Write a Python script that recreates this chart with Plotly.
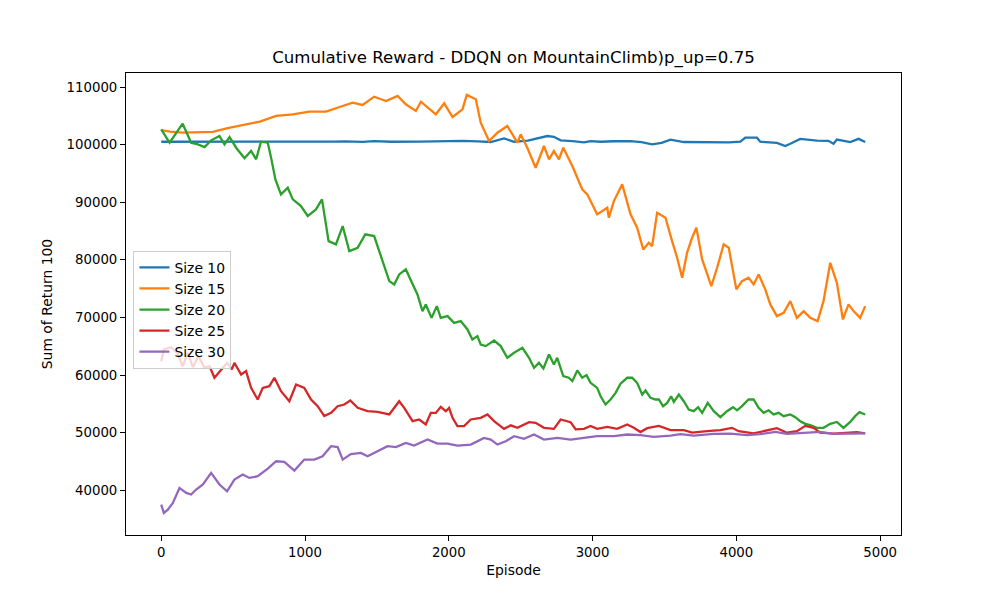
import plotly.graph_objects as go

# Size 10
ep_10 = [0, 300, 600, 900, 1200, 1280, 1400, 1480, 1600, 1800, 2000, 2100, 2200, 2292, 2384, 2453,
         2550, 2685, 2731, 2778, 2860, 2940, 2986, 3056, 3148, 3264, 3340, 3414, 3480, 3542, 3634,
         3750, 3866, 3950, 4028, 4062, 4143, 4166, 4282, 4340, 4375, 4444, 4560, 4640, 4676, 4699,
         4792, 4850, 4896]
size_10 = [100500, 100480, 100450, 100470, 100520, 100560, 100480, 100620, 100500, 100530, 100600,
           100650, 100550, 100450, 101090, 100500, 100700, 101490, 101350, 100740, 100600, 100400,
           100620, 100500, 100580, 100620, 100450, 100050, 100300, 100850, 100450, 100400, 100450,
           100380, 100500, 101200, 101200, 100500, 100300, 99760, 100150, 101000, 100700, 100650,
           100150, 100880, 100450, 101000, 100450]

# Size 15
ep_15 = [0, 60, 150, 250, 359, 454, 570, 686, 799, 915, 1030, 1146, 1262, 1331, 1400, 1481, 1528,
         1563, 1644, 1701, 1771, 1806, 1910, 1968, 2026, 2095, 2125, 2188, 2222, 2280, 2338, 2407,
         2477, 2500, 2546, 2604, 2662, 2697, 2731, 2766, 2796, 2859, 2928, 2963, 3032, 3102, 3113,
         3148, 3206, 3241, 3264, 3310, 3352, 3391, 3414, 3449, 3507, 3553, 3588, 3623, 3657, 3692,
         3722, 3762, 3826, 3866, 3912, 3947, 4000, 4039, 4085, 4120, 4155, 4201, 4236, 4282, 4329,
         4375, 4421, 4468, 4514, 4565, 4606, 4653, 4699, 4741, 4780, 4815, 4861, 4896]
size_15 = [102500, 102250, 102070, 102100, 102200, 102830, 103350, 104000, 104970, 105260, 105720,
           105720, 106700, 107280, 106880, 108320, 107870, 107570, 108440, 107000, 105840, 107450,
           105260, 107170, 104790, 106130, 108620, 107870, 103800, 100620, 102070, 103230, 100330,
           101790, 99460, 95990, 99760, 97450, 98890, 97450, 99460, 96280, 92240, 91370, 87890,
           89040, 87300, 90200, 93100, 89910, 87890, 85570, 81810, 82960, 82390, 88170, 87300,
           83250, 80370, 76880, 81230, 83830, 85570, 80070, 75440, 78620, 82680, 82100, 74870,
           76310, 76880, 75730, 77470, 74870, 72260, 70230, 70800, 72830, 69930, 71100, 69930,
           69360, 72830, 79490, 76010, 69650, 72260, 71100, 69930, 71970]

# Size 20
ep_20 = [0, 58, 149, 208, 255, 301, 347, 405, 440, 475, 521, 579, 625, 660, 694, 741, 764, 794,
         833, 880, 915, 972, 1019, 1076, 1118, 1164, 1215, 1262, 1308, 1366, 1419, 1481, 1516,
         1558, 1586, 1620, 1655, 1701, 1748, 1782, 1817, 1840, 1880, 1917, 1944, 1991, 2037, 2083,
         2130, 2164, 2199, 2222, 2257, 2315, 2361, 2407, 2454, 2512, 2558, 2593, 2627, 2658, 2697,
         2731, 2754, 2796, 2835, 2859, 2894, 2928, 2958, 2986, 3032, 3056, 3090, 3125, 3160, 3194,
         3241, 3275, 3310, 3345, 3368, 3403, 3438, 3461, 3490, 3519, 3546, 3565, 3600, 3634, 3669,
         3704, 3734, 3762, 3801, 3843, 3889, 3935, 3977, 4005, 4039, 4085, 4120, 4155, 4190, 4224,
         4259, 4294, 4329, 4375, 4410, 4444, 4479, 4514, 4560, 4606, 4653, 4699, 4745, 4792, 4826,
         4856, 4896]
size_20 = [102660, 100330, 103630, 100330, 100050, 99580, 100740, 101490, 100050, 101320, 99460,
           97620, 98890, 97450, 100500, 100330, 97740, 93970, 91370, 92520, 90500, 89330, 87600,
           88760, 90500, 83250, 82680, 85860, 81520, 82100, 84420, 84130, 81520, 78620, 76310,
           75730, 77470, 78340, 75730, 73990, 71100, 72260, 69930, 71970, 69930, 70230, 69060,
           69360, 67920, 66180, 66760, 65310, 65030, 66000, 65030, 63000, 63870, 64740, 63000,
           61250, 62120, 61140, 63570, 61840, 63000, 59820, 59530, 58950, 60810, 59530, 59990,
           58650, 57780, 56330, 54890, 55760, 56910, 58500, 59530, 59530, 58650, 56630, 57320,
           56040, 55760, 55760, 54600, 55170, 56330, 55350, 56630, 55460, 54020, 53730, 54420,
           53440, 55170, 53730, 52690, 53730, 54420, 53880, 54600, 55760, 55760, 54310, 53440,
           53880, 53160, 53440, 52870, 53160, 52690, 51990, 51530, 51300, 50840, 50840, 51530,
           51870, 50840, 51870, 52870, 53560, 53160]

# Size 25
ep_25 = [0, 18, 69, 111, 150, 185, 220, 259, 301, 336, 370, 417, 458, 491, 509, 556, 590, 625,
         671, 706, 752, 787, 833, 891, 938, 995, 1042, 1088, 1134, 1181, 1227, 1273, 1315, 1366,
         1435, 1505, 1586, 1655, 1690, 1748, 1794, 1840, 1875, 1910, 1944, 1979, 2002, 2026, 2060,
         2106, 2153, 2222, 2269, 2315, 2384, 2431, 2477, 2558, 2604, 2662, 2731, 2778, 2847, 2882,
         2940, 2986, 3032, 3102, 3171, 3241, 3287, 3333, 3380, 3461, 3542, 3634, 3692, 3796, 3889,
         3970, 4016, 4120, 4213, 4282, 4352, 4421, 4479, 4537, 4583, 4676, 4838, 4896]
size_25 = [62410, 64440, 64840, 63850, 61540, 63850, 61370, 63280, 61250, 61540, 59530, 60980,
           62120, 60980, 62120, 60100, 60680, 57780, 55760, 57780, 58070, 59530, 57200, 55460,
           58360, 57780, 55760, 54600, 52870, 53440, 54600, 54890, 55580, 54310, 53730, 53600,
           53160, 55460, 54310, 52000, 52290, 51420, 53440, 53440, 54480, 53730, 54310, 52580,
           51150, 51150, 52290, 52580, 53160, 52000, 50670, 51270, 50840, 51830, 51700, 50840,
           50670, 52290, 51830, 50590, 50670, 51150, 50670, 51000, 50670, 51420, 50840, 50110,
           50780, 51180, 50430, 50430, 50000, 50260, 50430, 50840, 50260, 49870, 50430, 50780,
           50000, 50260, 51180, 50840, 50000, 49820, 50110, 49870]

# Size 30
ep_30 = [0, 18, 46, 81, 127, 174, 208, 243, 290, 347, 405, 458, 509, 567, 613, 671, 741, 799,
         856, 926, 995, 1065, 1122, 1181, 1227, 1262, 1319, 1389, 1435, 1481, 1528, 1574, 1632,
         1701, 1759, 1852, 1921, 1991, 2060, 2153, 2245, 2292, 2338, 2396, 2454, 2523, 2593, 2662,
         2755, 2847, 2940, 3032, 3148, 3241, 3333, 3426, 3542, 3611, 3704, 3843, 3958, 4074, 4166,
         4271, 4352, 4491, 4583, 4676, 4815, 4896]
size_30 = [37520, 36070, 36650, 37810, 40410, 39540, 39260, 40130, 41000, 43020, 41000, 39830,
           41860, 42730, 42150, 42440, 43770, 45040, 44920, 43420, 45330, 45330, 45910, 47650,
           47500, 45330, 46300, 46480, 45910, 46480, 47070, 47650, 47500, 48230, 47770, 48810,
           48110, 48110, 47770, 47940, 49100, 48810, 47940, 48520, 49390, 48920, 49680, 48810,
           49100, 48810, 49100, 49390, 49390, 49680, 49560, 49270, 49500, 49730, 49500, 49800,
           49850, 49560, 49730, 50130, 49800, 50000, 50130, 49800, 49850, 49870]

series = [
    ("Size 10", ep_10, size_10, "#1f77b4"),
    ("Size 15", ep_15, size_15, "#ff7f0e"),
    ("Size 20", ep_20, size_20, "#2ca02c"),
    ("Size 25", ep_25, size_25, "#d62728"),
    ("Size 30", ep_30, size_30, "#9467bd"),
]

fig = go.Figure()
for nome, x, y, cor in series:
    fig.add_trace(go.Scatter(x=x, y=y, name=nome, mode="lines",
                             line=dict(color=cor, width=2.3)))

eixo = dict(showline=True, mirror=True, linecolor="black", linewidth=1,
            ticks="outside", ticklen=5, tickcolor="black", showgrid=False,
            zeroline=False, tickfont=dict(size=13.3, color="black"))

# a pagina tem ~8px de margem no body, por isso as margens compensam
fig.update_layout(
    width=1000, height=600,
    margin=dict(l=118, r=107, t=65, b=73),
    paper_bgcolor="white", plot_bgcolor="white",
    font=dict(family="DejaVu Sans", color="black"),
    title=dict(text="Cumulative Reward - DDQN on MountainClimb)p_up=0.75",
               x=0.5055, xanchor="center", y=0.918, yanchor="middle",
               font=dict(size=16.6)),
    legend=dict(x=0.0096, y=0.615, xanchor="left", yanchor="top",
                bgcolor="rgba(255,255,255,0.8)", bordercolor="#cccccc",
                borderwidth=1, font=dict(size=13.9)),
    showlegend=True,
)
fig.update_xaxes(eixo, range=[-245, 5145], tickvals=[0, 1000, 2000, 3000, 4000, 5000],
                 title=dict(text="Episode", font=dict(size=13.9), standoff=6))
fig.update_yaxes(eixo, range=[32240, 112430],
                 tickvals=[40000, 50000, 60000, 70000, 80000, 90000, 100000, 110000],
                 tickformat="d", title=dict(text="Sum of Return 100", font=dict(size=13.9), standoff=10))

fig.write_html("out.html")
